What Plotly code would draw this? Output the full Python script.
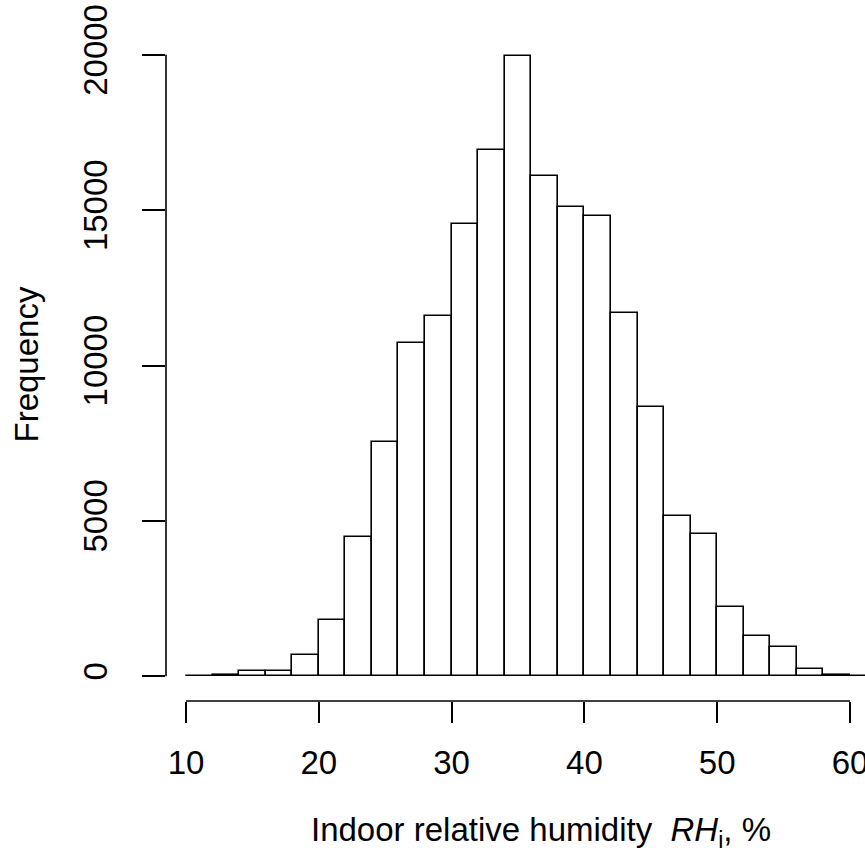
import plotly.graph_objects as go

# Histogram of indoor relative humidity, 2 %-wide bins starting at 10 %
bin_start = 10
bin_width = 2
counts = [15, 40, 150, 180, 680, 1810, 4480, 7530, 10715, 11595,
          14550, 16930, 19970, 16100, 15115, 14815, 11680, 8655, 5165, 4575,
          2230, 1290, 945, 235, 40, 20]
centers = [bin_start + bin_width * (i + 0.5) for i in range(len(counts))]

x_ticks = [10, 20, 30, 40, 50, 60]
y_ticks = [0, 5000, 10000, 15000, 20000]

FONT = "Liberation Sans, Arial, Helvetica, sans-serif"
LW = 1.6
W, H = 865, 855
ML, MT, MB = 166, 30, 154
PW, PH = W - ML, H - MT - MB


def px_x(p):
    """Pixel column -> paper x."""
    return (p - ML) / PW


def px_y(p):
    """Pixel row -> paper y."""
    return (H - MB - p) / PH


fig = go.Figure()
fig.add_trace(go.Bar(
    x=centers, y=counts, width=bin_width,
    marker=dict(color="white", line=dict(color="black", width=LW)),
    showlegend=False, hoverinfo="skip",
))

fig.update_layout(
    width=W, height=H,
    margin=dict(l=ML, r=0, t=MT, b=MB, pad=0),
    paper_bgcolor="white", plot_bgcolor="white",
    font=dict(family=FONT, size=33, color="black"),
    bargap=0,
    xaxis=dict(
        range=[8.494, 61.13], tickvals=x_ticks, ticktext=[str(v) for v in x_ticks],
        showgrid=False, zeroline=False, showline=False,
        ticks="outside", ticklen=21, tickwidth=LW, tickcolor="black",
        ticklabelstandoff=11, ticklabeloverflow="allow", automargin=False,
    ),
    yaxis=dict(
        range=[-800, 20800], tickvals=y_ticks, ticktext=[str(v) for v in y_ticks],
        showgrid=False, zeroline=False, showline=False,
        ticks="outside", ticklen=23, tickwidth=LW, tickcolor="black",
        tickangle=-90, ticklabelstandoff=22, automargin=False,
    ),
    shapes=[
        # axis lines spanning only the tick range
        dict(type="line", xref="x", yref="paper", x0=x_ticks[0], x1=x_ticks[-1], y0=0, y1=0,
             line=dict(color="black", width=LW), layer="above"),
        dict(type="line", xref="paper", yref="y", x0=0, x1=0, y0=y_ticks[0], y1=y_ticks[-1],
             line=dict(color="black", width=LW), layer="above"),
    ],
    annotations=[
        dict(text="Indoor relative humidity  <i>RH</i><sub>i</sub>, %",
             xref="paper", yref="paper", x=px_x(541), y=px_y(832),
             xanchor="center", yanchor="middle", showarrow=False,
             font=dict(family=FONT, size=33, color="black")),
        dict(text="Frequency", textangle=-90,
             xref="paper", yref="paper", x=px_x(25.5), y=px_y(365),
             xanchor="center", yanchor="middle", showarrow=False,
             font=dict(family=FONT, size=33, color="black")),
    ],
)

fig.write_html("out.html")
